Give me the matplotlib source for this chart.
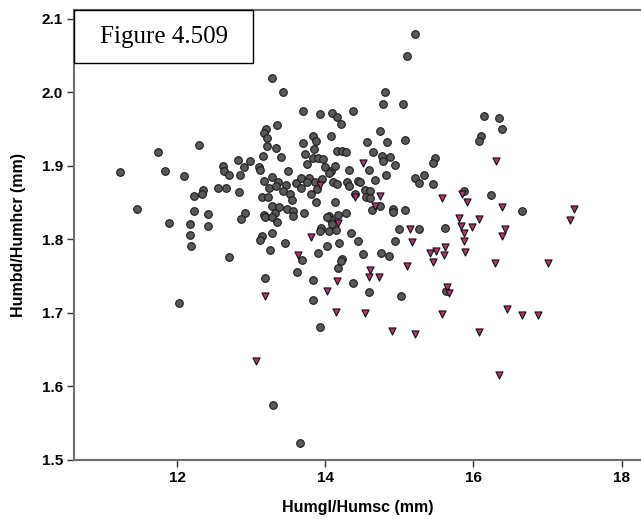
import matplotlib
matplotlib.use("Agg")
import matplotlib.pyplot as plt
from matplotlib.patches import Rectangle

# group 1 (grey circles): Humgl/Humsc vs Humbd/Humhcr
circ_x = [11.23, 11.46, 11.74, 11.84, 11.89, 12.03, 12.09, 12.18, 12.18, 12.19,
          12.23, 12.23, 12.30, 12.35, 12.34, 12.42, 12.42, 12.55, 12.66, 12.84,
          12.62, 12.63, 12.70, 12.82, 12.85, 12.98, 12.90, 13.11, 13.12, 13.16,
          12.92, 12.86, 12.70, 13.20, 13.17, 13.21, 13.21, 13.33, 13.40, 13.35,
          13.50, 13.17, 13.28, 13.36, 13.47, 13.60, 13.24, 13.33, 13.43, 13.52,
          13.55, 13.15, 13.23, 13.28, 13.37, 13.48, 13.56, 13.17, 13.19, 13.32,
          13.28, 13.35, 13.56, 13.15, 13.12, 13.28, 13.46, 13.25, 13.19, 13.62,
          13.28, 13.43, 13.70, 13.29, 13.66, 13.69,
          13.93, 14.09, 14.16, 14.21, 14.37, 14.78, 15.05, 14.80, 15.21, 15.10,
          14.08, 13.83, 13.87, 13.70, 13.85, 13.73, 14.16, 14.22, 14.28, 13.83,
          13.90, 13.97, 13.75, 13.99, 14.08, 14.13, 14.05, 14.32, 14.74, 14.57,
          14.83, 15.07, 14.65, 14.76, 14.88, 14.78, 14.94, 14.59, 14.82, 14.67,
          15.48, 15.45, 15.33, 15.21, 15.27, 15.45, 13.67, 13.78, 13.75, 13.86,
          13.95, 14.10, 14.16, 13.67, 13.89, 13.81, 14.30, 14.32, 14.44, 14.47,
          14.53, 14.61, 14.55, 14.60, 13.87, 14.13, 14.40, 14.74, 14.63, 14.92,
          14.92, 15.07, 13.71, 14.05, 14.17, 14.28, 14.08, 14.99, 15.27, 15.61,
          13.94, 16.14, 16.35, 16.39, 16.10, 16.08, 15.87, 16.23, 16.65, 14.94,
          14.35, 14.44, 14.51, 14.75, 14.86, 14.22, 14.02, 14.18, 13.93, 14.05,
          14.14, 14.03, 14.09, 13.90, 14.17, 14.21, 13.83, 13.83, 14.37, 14.59,
          15.02, 15.63, 13.93]
circ_y = [1.892, 1.842, 1.919, 1.893, 1.823, 1.714, 1.886, 1.821, 1.806, 1.791,
          1.859, 1.839, 1.929, 1.867, 1.862, 1.835, 1.818, 1.870, 1.870, 1.865,
          1.900, 1.893, 1.888, 1.908, 1.888, 1.906, 1.899, 1.899, 1.895, 1.914,
          1.836, 1.828, 1.776, 1.950, 1.945, 1.938, 1.927, 1.925, 1.912, 1.956,
          1.893, 1.880, 1.885, 1.878, 1.874, 1.877, 1.870, 1.872, 1.866, 1.862,
          1.854, 1.858, 1.858, 1.846, 1.844, 1.842, 1.839, 1.833, 1.831, 1.836,
          1.831, 1.824, 1.832, 1.805, 1.799, 1.809, 1.795, 1.786, 1.748, 1.756,
          2.020, 2.001, 1.975, 1.575, 1.523, 1.772,
          1.971, 1.972, 1.967, 1.957, 1.975, 1.984, 1.984, 2.001, 2.080, 2.050,
          1.941, 1.940, 1.934, 1.931, 1.923, 1.916, 1.920, 1.920, 1.919, 1.911,
          1.911, 1.910, 1.903, 1.899, 1.893, 1.900, 1.891, 1.895, 1.948, 1.933,
          1.933, 1.935, 1.919, 1.914, 1.912, 1.907, 1.901, 1.895, 1.888, 1.881,
          1.911, 1.904, 1.888, 1.884, 1.877, 1.876, 1.884, 1.884, 1.878, 1.878,
          1.882, 1.878, 1.875, 1.870, 1.869, 1.862, 1.878, 1.872, 1.880, 1.878,
          1.867, 1.866, 1.858, 1.857, 1.851, 1.851, 1.862, 1.846, 1.840, 1.842,
          1.837, 1.840, 1.836, 1.832, 1.833, 1.836, 1.827, 1.814, 1.814, 1.816,
          1.816, 1.968, 1.965, 1.950, 1.941, 1.934, 1.866, 1.861, 1.839, 1.798,
          1.809, 1.798, 1.780, 1.782, 1.778, 1.774, 1.791, 1.795, 1.812, 1.812,
          1.813, 1.831, 1.821, 1.782, 1.761, 1.771, 1.745, 1.718, 1.741, 1.729,
          1.723, 1.730, 1.681]

# group 2 (pink triangles)
tri_x = [13.06, 13.19, 13.63, 13.81, 13.93, 14.17, 14.16, 14.02, 14.14, 14.40,
         14.51, 14.67, 14.74, 14.60, 14.59, 14.72, 14.53, 14.90, 15.21, 15.10,
         15.14, 15.17, 15.58, 15.85, 15.91, 15.80, 16.07, 15.83, 15.87, 15.87,
         15.89, 15.98, 16.31, 16.38, 16.43, 16.39, 17.36, 17.30, 15.61, 15.49,
         15.41, 15.60, 15.45, 15.64, 15.67, 15.58, 16.29, 17.00, 16.08, 16.45,
         16.66, 16.87, 16.34]
tri_y = [1.635, 1.723, 1.779, 1.803, 1.874, 1.822, 1.744, 1.730, 1.701, 1.858,
         1.904, 1.846, 1.859, 1.759, 1.749, 1.749, 1.700, 1.676, 1.672, 1.764,
         1.814, 1.797, 1.857, 1.862, 1.851, 1.829, 1.828, 1.818, 1.809, 1.798,
         1.783, 1.817, 1.906, 1.844, 1.814, 1.804, 1.842, 1.827, 1.790, 1.784,
         1.782, 1.779, 1.769, 1.735, 1.727, 1.699, 1.768, 1.768, 1.674, 1.706,
         1.697, 1.697, 1.616]

x_ticks = [12, 14, 16, 18]
y_ticks = [1.5, 1.6, 1.7, 1.8, 1.9, 2.0, 2.1]

fig = plt.figure(figsize=(6.41, 5.19), dpi=100)
ax = fig.add_axes([0.1154, 0.1137, 0.8846, 0.867])

ax.scatter(circ_x, circ_y, s=30, marker="o", facecolor="#595959",
           edgecolor="#1a1a1a", linewidth=0.8, zorder=3)
ax.scatter(tri_x, tri_y, s=26, marker="v", facecolor="#b33470",
           edgecolor="#111111", linewidth=0.8, zorder=4)

ax.set_xlim(10.61, 18.26)
ax.set_ylim(1.5, 2.112)
ax.set_xticks(x_ticks)
ax.set_yticks(y_ticks)
ax.set_yticklabels([f"{v:.1f}" for v in y_ticks])

for side in ["left", "bottom", "top"]:
    ax.spines[side].set_color("#6e6e6e")
    ax.spines[side].set_linewidth(1.5)
ax.spines["right"].set_visible(False)
ax.tick_params(direction="out", length=5, width=1, color="#333333",
               labelsize=11, pad=3)
for lab in ax.get_xticklabels() + ax.get_yticklabels():
    lab.set_fontweight("bold")
    lab.set_family("Liberation Sans")

ax.set_xlabel("Humgl/Humsc (mm)", fontsize=11.5, fontweight="bold",
              family="Liberation Sans", labelpad=11)
ax.set_ylabel("Humbd/Humhcr (mm)", fontsize=11.5, fontweight="bold",
              family="Liberation Sans", labelpad=11)

# label box in the top-left corner
ax.add_patch(Rectangle((0, 0.882), 0.316, 0.118, transform=ax.transAxes,
                       facecolor="white", edgecolor="black", linewidth=1,
                       zorder=5, clip_on=False))
ax.text(0.158, 0.941, "Figure 4.509", transform=ax.transAxes, ha="center",
        va="center", fontsize=18, family="Liberation Serif", zorder=6)

fig.savefig("out.png", dpi=100)
